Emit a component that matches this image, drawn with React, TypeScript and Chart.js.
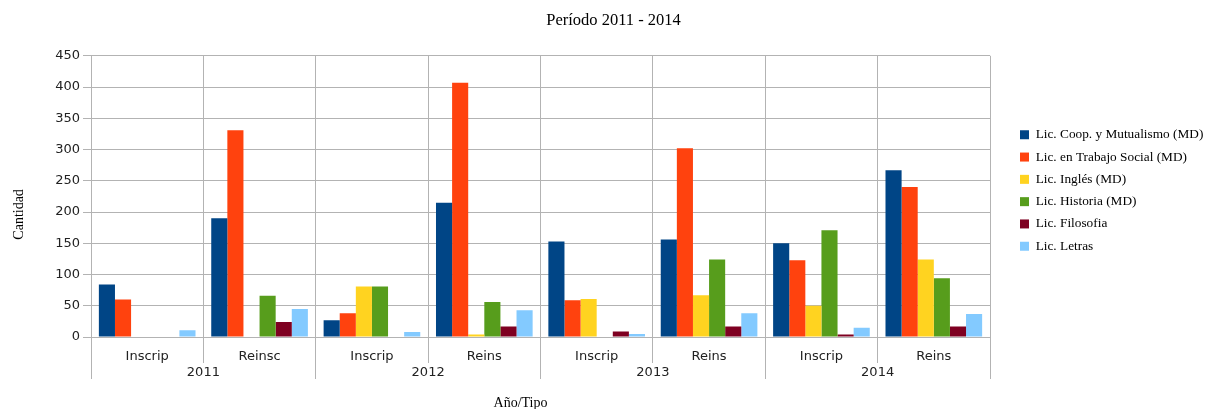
import React, { useEffect, useRef } from 'react';
import { Chart, registerables } from 'chart.js';

Chart.register(...registerables);

const chartTitle = 'Período 2011 - 2014';
const xAxisTitle = 'Año/Tipo';
const yAxisTitle = 'Cantidad';

const categories = ['Inscrip', 'Reinsc', 'Inscrip', 'Reins', 'Inscrip', 'Reins', 'Inscrip', 'Reins'];
const years = ['2011', '2012', '2013', '2014'];

const seriesNames = [
  'Lic. Coop. y Mutualismo (MD)',
  'Lic. en Trabajo Social (MD)',
  'Lic. Inglés (MD)',
  'Lic. Historia (MD)',
  'Lic. Filosofia',
  'Lic. Letras',
];

const coopMutualismo = [84, 190, 27, 215, 153, 156, 150, 267];
const trabajoSocial = [60, 331, 38, 407, 59, 302, 123, 240];
const ingles = [0, 0, 81, 4, 61, 67, 50, 124];
const historia = [0, 66, 81, 56, 0, 124, 171, 94];
const filosofia = [0, 24, 0, 17, 9, 17, 4, 17];
const letras = [11, 45, 8, 43, 5, 38, 15, 37];

const seriesValues = [coopMutualismo, trabajoSocial, ingles, historia, filosofia, letras];
const seriesColors = ['#004586', '#ff420e', '#ffd320', '#579d1c', '#7e0021', '#83caff'];

const yMin = 0;
const yMax = 450;
const yStep = 50;

const GRID = '#b3b3b3';
const SANS = '"DejaVu Sans", sans-serif';
const SERIF = '"Liberation Serif", serif';
const LEGEND_PAD = 9;
const LEGEND_GAP = 30;
const LEGEND_WIDTH = 237;

const axisTitlesPlugin = {
  id: 'axisTitles',
  afterDraw(chart: any) {
    const { ctx, chartArea } = chart;
    ctx.save();
    ctx.fillStyle = '#000';
    ctx.font = `14px ${SERIF}`;
    ctx.textAlign = 'center';
    ctx.textBaseline = 'middle';
    ctx.fillText(xAxisTitle, (chartArea.left + chartArea.right) / 2 - 20, chart.height - 6);
    ctx.translate(19, (chartArea.top + chartArea.bottom) / 2 + 18);
    ctx.rotate(-Math.PI / 2);
    ctx.fillText(yAxisTitle, 0, 0);
    ctx.restore();
  },
};

const legendLayoutPlugin = {
  id: 'legendLayout',
  beforeLayout(chart: any) {
    const l = chart.legend;
    if (l && !l.__fixedWidth) {
      const origFit = l.fit;
      l.fit = function (this: any) {
        origFit.call(this);
        this.width = LEGEND_WIDTH;
      };
      l.__fixedWidth = true;
    }
  },
  afterLayout(chart: any) {
    const l = chart.legend;
    if (l) {
      const shift = chart.chartArea.right + LEGEND_GAP - (l.left + LEGEND_PAD);
      l.left += shift;
      l.right += shift;
    }
  },
};

export default function App() {
  const ref = useRef<HTMLCanvasElement | null>(null);

  useEffect(() => {
    if (!ref.current) return;
    const chart = new Chart(ref.current, {
      type: 'bar',
      data: {
        labels: categories,
        datasets: seriesValues.map((vals, i) => ({
          label: seriesNames[i],
          data: vals,
          backgroundColor: seriesColors[i],
          borderWidth: 0,
          categoryPercentage: 0.86,
          barPercentage: 1,
        })),
      },
      options: {
        responsive: false,
        animation: false,
        devicePixelRatio: 1,
        layout: { padding: { top: 0, left: 0, right: 0, bottom: 28 } },
        plugins: {
          title: {
            display: true,
            text: chartTitle,
            color: '#000',
            font: { family: SERIF, size: 16.5, weight: 'normal' },
            padding: { top: 11, bottom: 25 },
          },
          legend: {
            position: 'right',
            align: 'center',
            labels: {
              color: '#000',
              font: { family: SERIF, size: 13.3 },
              boxWidth: 9,
              boxHeight: 9,
              padding: LEGEND_PAD,
            },
          },
          tooltip: { enabled: false },
        },
        scales: {
          y: {
            min: yMin,
            max: yMax,
            afterFit(scale: any) {
              scale.width = 91;
            },
            ticks: {
              stepSize: yStep,
              color: '#222',
              font: { family: SANS, size: 13 },
              padding: 3,
            },
            grid: { color: GRID, tickLength: 8 },
            border: { color: GRID },
          },
          x: {
            weight: 0,
            afterFit(scale: any) {
              scale.height = 26;
            },
            ticks: {
              autoSkip: false,
              maxRotation: 0,
              color: '#222',
              font: { family: SANS, size: 13 },
              padding: -14,
            },
            grid: { color: GRID, offset: true, tickLength: 26 },
            border: { color: GRID },
          },
          x2: {
            type: 'category',
            labels: years,
            position: 'bottom',
            weight: 1,
            afterFit(scale: any) {
              scale.height = 18;
            },
            ticks: {
              autoSkip: false,
              maxRotation: 0,
              color: '#222',
              font: { family: SANS, size: 13 },
              padding: -14,
            },
            grid: { color: GRID, offset: true, drawOnChartArea: false, tickLength: 16 },
            border: { display: false },
          },
        },
      },
      plugins: [axisTitlesPlugin, legendLayoutPlugin],
    } as any);
    return () => chart.destroy();
  }, []);

  return (
    <div style={{ position: 'absolute', left: 0, top: 0, width: 1227, height: 409, background: '#fff' }}>
      <canvas ref={ref} width={1227} height={409} />
    </div>
  );
}
